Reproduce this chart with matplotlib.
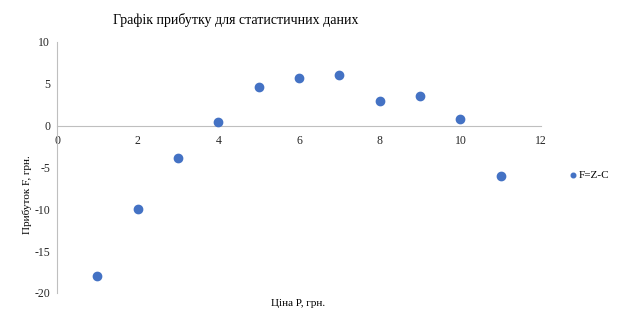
import matplotlib.pyplot as plt

plt.rcParams['font.family'] = ['Liberation Serif', 'DejaVu Serif']
plt.rcParams['axes.unicode_minus'] = False

price = [1, 2, 3, 4, 5, 6, 7, 8, 9, 10, 11]
profit = [-18, -10, -3.9, 0.4, 4.6, 5.7, 6.0, 3.0, 3.5, 0.8, -6.0]
x_ticks = [0, 2, 4, 6, 8, 10, 12]
y_ticks = [10, 5, 0, -5, -10, -15, -20]

fig = plt.figure(figsize=(6.17, 3.25), dpi=100)
ax = fig.add_axes([0.0924, 0.0985, 0.7846, 0.7725])

ax.scatter(price, profit, color='#4472C4', s=36, zorder=3, label='F=Z-C')

ax.set_xlim(0, 12)
ax.set_ylim(-20, 10)
ax.set_xticks(x_ticks)
ax.set_yticks(y_ticks)

ax.spines['top'].set_visible(False)
ax.spines['right'].set_visible(False)
ax.spines['bottom'].set_position(('data', 0))
ax.spines['left'].set_color('#BFBFBF')
ax.spines['bottom'].set_color('#BFBFBF')
ax.tick_params(length=0, labelsize=8.5, colors='#262626', pad=5)
ax.tick_params(axis='x', pad=7)

fig.text(236 / 617, 1 - 20 / 325, 'Графік прибутку для статистичних даних',
         ha='center', va='center', fontsize=10)
fig.text(27 / 617, 1 - 195 / 325, 'Прибуток F, грн.', rotation=90,
         ha='center', va='center', fontsize=8)
fig.text(298 / 617, 1 - 303 / 325, 'Ціна P, грн.', ha='center', va='center', fontsize=8)

ax.legend(loc='center left', bbox_to_anchor=(562 / 617, 1 - 175 / 325),
          bbox_transform=fig.transFigure, frameon=False, fontsize=8,
          handletextpad=0.0, markerscale=0.55, borderpad=0, handlelength=1.0)

plt.savefig('out.png', dpi=100)
